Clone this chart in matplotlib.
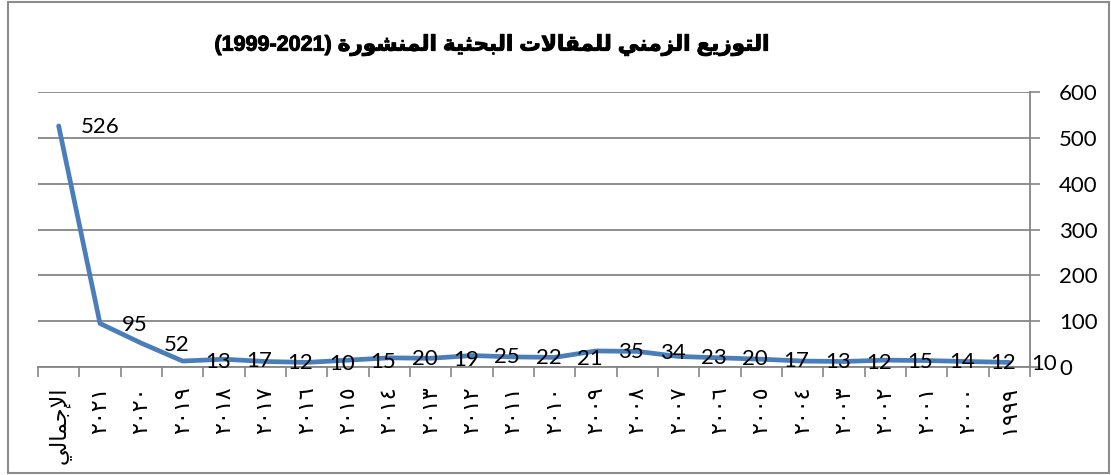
import numpy as np
import matplotlib.pyplot as plt
import matplotlib.patheffects as pe
from matplotlib.patches import Rectangle

# ----------------- data -----------------
categories = ["الإجمالي", "٢٠٢١", "٢٠٢٠", "٢٠١٩", "٢٠١٨", "٢٠١٧", "٢٠١٦", "٢٠١٥",
              "٢٠١٤", "٢٠١٣", "٢٠١٢", "٢٠١١", "٢٠١٠", "٢٠٠٩", "٢٠٠٨", "٢٠٠٧",
              "٢٠٠٦", "٢٠٠٥", "٢٠٠٤", "٢٠٠٣", "٢٠٠٢", "٢٠٠١", "٢٠٠٠", "١٩٩٩"]
counts = [526, 95, 52, 13, 17, 12, 10, 15, 20, 19, 25, 22, 21, 35, 34, 23,
          20, 17, 13, 12, 15, 14, 12, 10]
y_ticks = [0, 100, 200, 300, 400, 500, 600]
title_ar = "التوزيع الزمني للمقالات البحثية المنشورة"
title_years = "(1999-2021)"

# ----------------- minimal arabic shaping (matplotlib has none) -----------------
# letter: (isolated, final, initial, medial); two forms only -> right-joining
FORMS = {
    'ا': (0xFE8D, 0xFE8E), 'إ': (0xFE87, 0xFE88), 'أ': (0xFE83, 0xFE84),
    'ة': (0xFE93, 0xFE94), 'ر': (0xFEAD, 0xFEAE), 'ز': (0xFEAF, 0xFEB0),
    'و': (0xFEED, 0xFEEE), 'د': (0xFEA9, 0xFEAA),
    'ب': (0xFE8F, 0xFE90, 0xFE91, 0xFE92), 'ت': (0xFE95, 0xFE96, 0xFE97, 0xFE98),
    'ث': (0xFE99, 0xFE9A, 0xFE9B, 0xFE9C), 'ج': (0xFE9D, 0xFE9E, 0xFE9F, 0xFEA0),
    'ح': (0xFEA1, 0xFEA2, 0xFEA3, 0xFEA4), 'ش': (0xFEB5, 0xFEB6, 0xFEB7, 0xFEB8),
    'ع': (0xFEC9, 0xFECA, 0xFECB, 0xFECC), 'ق': (0xFED5, 0xFED6, 0xFED7, 0xFED8),
    'ل': (0xFEDD, 0xFEDE, 0xFEDF, 0xFEE0), 'م': (0xFEE1, 0xFEE2, 0xFEE3, 0xFEE4),
    'ن': (0xFEE5, 0xFEE6, 0xFEE7, 0xFEE8), 'ي': (0xFEF1, 0xFEF2, 0xFEF3, 0xFEF4),
}
LAM_ALEF = {'ا': (0xFEFB, 0xFEFC), 'إ': (0xFEF9, 0xFEFA), 'أ': (0xFEF7, 0xFEF8)}


def shape(text):
    units = []  # list of form tuples or plain chars
    i = 0
    while i < len(text):
        c = text[i]
        if c == 'ل' and i + 1 < len(text) and text[i + 1] in LAM_ALEF:
            units.append(LAM_ALEF[text[i + 1]])
            i += 2
            continue
        units.append(FORMS.get(c, c))
        i += 1
    out = []
    for k, u in enumerate(units):
        if isinstance(u, str):
            out.append(u)
            continue
        prev = units[k - 1] if k > 0 else None
        nxt = units[k + 1] if k + 1 < len(units) else None
        jp = isinstance(prev, tuple) and len(prev) == 4
        jn = len(u) == 4 and isinstance(nxt, tuple)
        if jp and jn:
            out.append(chr(u[3]))
        elif jp:
            out.append(chr(u[1]))
        elif jn:
            out.append(chr(u[2]))
        else:
            out.append(chr(u[0]))
    return ''.join(out)[::-1]  # visual order, right to left


def visual(text):
    if any('\u0600' <= ch <= '\u06FF' and not '\u0660' <= ch <= '\u0669' for ch in text):
        return shape(text)
    return text


# ----------------- plot -----------------
W, H = 1111, 475
fig = plt.figure(figsize=(W / 100, H / 100), dpi=100)
ax = fig.add_axes([38 / W, 1 - 367 / H, (1030 - 38) / W, (367 - 92) / H])

grey = '#868686'
x = np.arange(len(categories))
ax.plot(x, counts, color='#4A7EBB', lw=3.4, solid_joinstyle='round', solid_capstyle='round',
        zorder=3, clip_on=False)

for xi, v in zip(x, counts):
    ax.annotate(str(v), (xi, v), xytext=(16, -1), textcoords='offset points',
                ha='left', va='center', fontsize=16, family='Lato', zorder=4,
                annotation_clip=False)

ax.set_xlim(-0.5, len(categories) - 0.5)
ax.set_ylim(0, 600)
ax.set_yticks(y_ticks)
ax.yaxis.tick_right()
ax.tick_params(axis='y', length=7, width=1.2, color=grey, pad=14, labelsize=16)
for lab in ax.get_yticklabels():
    lab.set_family('Lato')

ax.set_xticks(np.arange(len(categories) + 1) - 0.5, minor=False)
ax.set_xticklabels([])
ax.set_xticks(x, minor=True)
ax.set_xticklabels([visual(c) for c in categories], minor=True, rotation=90,
                   family='DejaVu Sans', fontsize=16)
ax.tick_params(axis='x', which='major', length=7, width=1.2, color=grey, direction='out')
ax.tick_params(axis='x', which='minor', length=0, pad=14)

ax.grid(axis='y', color=grey, lw=1.3)
ax.set_axisbelow(True)
for s in ['left', 'top']:
    ax.spines[s].set_visible(False)
for s in ['bottom', 'right']:
    ax.spines[s].set_color(grey)
    ax.spines[s].set_linewidth(1.3)

fig.text(491 / W, 1 - 45 / H, title_years + ' ' + visual(title_ar), ha='center', va='center',
         fontsize=15.5, fontweight='bold', family=['Liberation Sans', 'DejaVu Sans'],
         path_effects=[pe.withStroke(linewidth=0.7, foreground='black')])

fig.patches.append(Rectangle((8 / W, 2 / H), (1109 - 8) / W, (473 - 2) / H,
                             transform=fig.transFigure, fill=False, ec='#8c8c8c', lw=1.5))

fig.savefig('out.png', dpi=100)
